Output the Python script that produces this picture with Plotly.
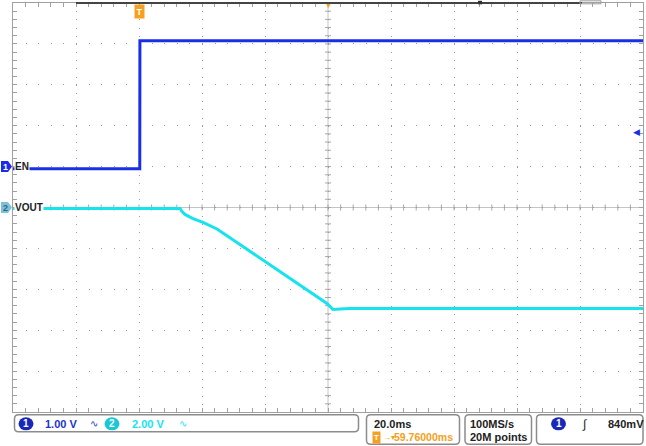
import plotly.graph_objects as go

# ---------------- data ----------------
# time in ms relative to trigger, voltages in V
en_t = [-40.24, 0.0, 0.05, 159.76]
en_v = [-0.05, -0.05, 3.08, 3.08]

vout_t = [-40.24, 12.8, 13.41, 14.36, 16.9, 20.08, 24.52, 31.82, 40.4, 49.92, 59.44,
          60.39, 61.35, 63.57, 66.7, 159.76]
vout_v = [-0.05, -0.05, -0.20, -0.34, -0.54, -0.73, -1.05, -1.81, -2.69, -3.69, -4.69,
          -4.84, -4.99, -4.96, -4.94, -4.94]

ch_labels = ["EN", "VOUT"]
ch1_scale = "1.00 V"
ch2_scale = "2.00 V"
time_scale = "20.0ms"
delay_text = "59.76000ms"
rate_text = "100MS/s"
points_text = "20M points"
trig_text = "840mV"
trig_level = 0.84

# ---------------- scope settings ----------------
t_div = 20.0
delay = 59.76
xr = [delay - 5 * t_div, delay + 5 * t_div]
en_range = [-6, 4]       # 1 V/div, ground 1 div above centre
vout_range = [-10, 10]   # 2 V/div, ground at centre

BLUE = "#1a2ee8"
CYAN = "#16e3ee"
ORANGE = "#f5a020"
GRID = "#9a9a9a"
FONT = "Liberation Sans"

L, T, W, H = 13, 2.7, 630, 409


def px(x):
    return (x - L) / W


def py(y):
    return 1 - (y - T) / H


fig = go.Figure()
fig.add_trace(go.Scatter(x=en_t, y=en_v, mode="lines", yaxis="y",
                         line=dict(color=BLUE, width=3), hoverinfo="skip"))
fig.add_trace(go.Scatter(x=vout_t, y=vout_v, mode="lines", yaxis="y2",
                         line=dict(color=CYAN, width=3), hoverinfo="skip"))

shapes = []
# centre crosshair
shapes.append(dict(type="line", xref="x", yref="y2", x0=xr[0], x1=xr[1], y0=0, y1=0,
                   line=dict(color="#c4c4c4", width=1), layer="below"))
shapes.append(dict(type="line", xref="x", yref="y2", x0=delay, x1=delay, y0=vout_range[0], y1=vout_range[1],
                   line=dict(color="#c4c4c4", width=1), layer="below"))
# crosshair ticks
p = []
hx = 3 / W * (xr[1] - xr[0])
hy = 3 / H * (vout_range[1] - vout_range[0])
for i in range(1, 50):
    t = xr[0] + i * t_div / 5
    p.append(f"M{t:.3f},{-hy:.3f}L{t:.3f},{hy:.3f}")
for j in range(1, 50):
    v = vout_range[0] + j * 0.4
    p.append(f"M{delay - hx:.3f},{v:.3f}L{delay + hx:.3f},{v:.3f}")
shapes.append(dict(type="path", xref="x", yref="y2", path="".join(p),
                   line=dict(color="#a8a8a8", width=1), layer="below"))

# record-view line on top border
shapes.append(dict(type="line", xref="x", yref="paper", x0=xr[0] + t_div, x1=140.4, y0=1, y1=1,
                   line=dict(color="#444444", width=2)))
shapes.append(dict(type="rect", xref="paper", yref="paper", x0=px(580), x1=px(601), y0=py(3.5), y1=py(0.5),
                   line=dict(color="#9a9a9a", width=1)))
shapes.append(dict(type="rect", xref="paper", yref="paper", x0=px(478), x1=px(482), y0=py(4), y1=py(0.5),
                   fillcolor="#303030", line=dict(width=0)))


def rbox(x0, x1, y0, y1, r=4):
    path = (f"M{px(x0 + r)},{py(y0)} L{px(x1 - r)},{py(y0)} Q{px(x1)},{py(y0)} {px(x1)},{py(y0 + r)} "
            f"L{px(x1)},{py(y1 - r)} Q{px(x1)},{py(y1)} {px(x1 - r)},{py(y1)} "
            f"L{px(x0 + r)},{py(y1)} Q{px(x0)},{py(y1)} {px(x0)},{py(y1 - r)} "
            f"L{px(x0)},{py(y0 + r)} Q{px(x0)},{py(y0)} {px(x0 + r)},{py(y0)} Z")
    return dict(type="path", xref="paper", yref="paper", path=path,
                line=dict(color="#8c8c8c", width=1.5))


shapes.append(rbox(14.5, 358.5, 414.5, 431.5))
shapes.append(rbox(366.5, 459.5, 414.5, 444))
shapes.append(rbox(465, 531.5, 414.5, 444))
shapes.append(rbox(536.5, 643, 414.5, 444))


def circ(cx, cy, rx, ry, color):
    return dict(type="circle", xref="paper", yref="paper", x0=px(cx - rx), x1=px(cx + rx),
                y0=py(cy + ry), y1=py(cy - ry), fillcolor=color, line=dict(width=0))


shapes.append(circ(26, 423.5, 7.5, 6.5, "#1a28b8"))
shapes.append(circ(112, 423.5, 7.5, 6.5, "#18c8d4"))
shapes.append(circ(558.5, 423.5, 7.5, 6.5, "#1a28b8"))


# channel ground markers (left edge)
def chmark(vy, fill):
    return dict(type="path", xref="paper", yref="paper",
                path=(f"M{px(1)},{py(vy - 5.5)} L{px(8)},{py(vy - 5.5)} L{px(12)},{py(vy)} "
                      f"L{px(8)},{py(vy + 5.5)} L{px(1)},{py(vy + 5.5)} Z"),
                fillcolor=fill, line=dict(width=0))


y_en0 = T + H * (en_range[1] - 0) / (en_range[1] - en_range[0])
y_vo0 = T + H * (vout_range[1] - 0) / (vout_range[1] - vout_range[0])
shapes.append(chmark(y_en0, BLUE))
shapes.append(chmark(y_vo0, "#7fc0d6"))

ann = []


def txt(x, y, s, color="#222222", size=11, bold=True, xanchor="left", bg=None, pad=0):
    d = dict(xref="paper", yref="paper", x=px(x), y=py(y), text=s, showarrow=False,
             xanchor=xanchor, yanchor="middle",
             font=dict(family=FONT, size=size, color=color, weight="bold" if bold else "normal"))
    if bg:
        d["bgcolor"] = bg
        d["borderpad"] = pad
    return d


# bottom bar
ann.append(txt(26, 423.5, "1", "white", 10, True, "center"))
ann.append(txt(43, 423.5, ch1_scale, "#2233cc"))
ann.append(txt(88, 423.5, "∿", "#2233cc", 10, False))
ann.append(txt(112, 423.5, "2", "white", 10, True, "center"))
ann.append(txt(130, 423.5, ch2_scale, CYAN))
ann.append(txt(177, 423.5, "∿", CYAN, 10, False))
ann.append(txt(372, 423.5, time_scale))
ann.append(txt(372, 437, "T", "white", 8, True, "left", ORANGE, 1))
ann.append(txt(381, 437, "→▾", ORANGE, 8, False))
ann.append(txt(392, 437, delay_text, ORANGE, 10.5))
ann.append(txt(467.5, 423.5, rate_text))
ann.append(txt(467.5, 437, points_text))
ann.append(txt(558.5, 423.5, "1", "white", 10, True, "center"))
ann.append(txt(580, 423.5, "∫", "#222222", 12, False))
ann.append(txt(605.5, 423.5, trig_text))

# channel marker numbers and labels
ann.append(txt(5, y_en0, "1", "white", 9, True, "center"))
ann.append(txt(5, y_vo0, "2", "#2a6a88", 9, True, "center"))
ann.append(dict(xref="paper", yref="y", x=px(14), y=0, text=ch_labels[0], showarrow=False, xanchor="left",
                yanchor="middle", bgcolor="white", borderpad=0,
                font=dict(family=FONT, size=10, color="#222222", weight="bold")))
ann.append(dict(xref="paper", yref="y2", x=px(14), y=0, text=ch_labels[1], showarrow=False, xanchor="left",
                yanchor="middle", bgcolor="white", borderpad=0,
                font=dict(family=FONT, size=10, color="#222222", weight="bold")))

# trigger position marker, expansion marker, trigger level marker
ann.append(dict(xref="x", yref="paper", x=0, y=py(11.5), text="T", showarrow=False, xanchor="center",
                yanchor="middle", bgcolor=ORANGE, borderpad=1.5,
                font=dict(family=FONT, size=9, color="white", weight="bold")))
ann.append(dict(xref="x", yref="paper", x=delay, y=py(0), text="▼", showarrow=False, xanchor="center",
                yanchor="top", font=dict(family=FONT, size=7, color=ORANGE)))
ann.append(dict(xref="paper", yref="y", x=1, y=trig_level, text="◀", showarrow=False, xanchor="right",
                yanchor="middle", xshift=-1, font=dict(family=FONT, size=9, color=BLUE)))

axis_common = dict(showline=True, linecolor="#a0a0a0", linewidth=1, mirror="allticks",
                   ticks="inside", ticklen=4, tickcolor="#a0a0a0", showticklabels=False,
                   zeroline=False)

fig.update_layout(
    width=646, height=446,
    margin=dict(l=L, r=646 - L - W, t=3, b=446 - 3 - H, pad=0),
    paper_bgcolor="white", plot_bgcolor="white", showlegend=False,
    xaxis=dict(range=xr, tick0=xr[0], dtick=t_div, showgrid=True, gridcolor=GRID, gridwidth=1,
               griddash="1px,7.18px",
               minor=dict(tick0=xr[0], dtick=t_div / 5, ticks="inside", ticklen=4, tickcolor="#a0a0a0",
                          showgrid=False),
               **axis_common),
    yaxis=dict(range=en_range, tick0=en_range[0], dtick=1, showgrid=True, gridcolor=GRID, gridwidth=1,
               griddash="1px,11.6px",
               minor=dict(tick0=en_range[0], dtick=0.2, ticks="inside", ticklen=4, tickcolor="#a0a0a0",
                          showgrid=False),
               **axis_common),
    yaxis2=dict(range=vout_range, overlaying="y", showgrid=False, showline=False, zeroline=False,
                showticklabels=False, ticks=""),
    shapes=shapes, annotations=ann,
)

fig.write_html("out.html")
